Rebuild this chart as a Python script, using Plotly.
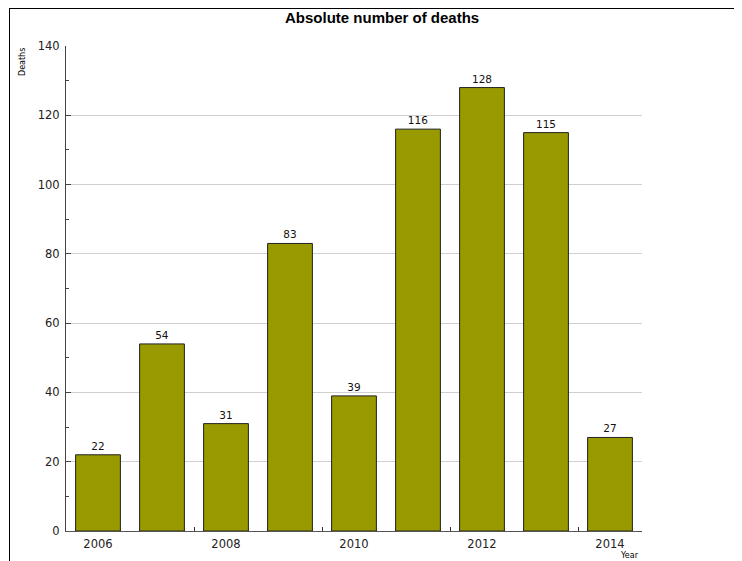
import plotly.graph_objects as go

years = [2006, 2007, 2008, 2009, 2010, 2011, 2012, 2013, 2014]
deaths = [22, 54, 31, 83, 39, 116, 128, 115, 27]
x_tick_vals = [2006, 2008, 2010, 2012, 2014]
x_tick_text = ["2006", "2008", "2010", "2012", "2014"]
x_minor_vals = [2007.5, 2009.5, 2011.5, 2013.5]
y_tick_vals = [0, 20, 40, 60, 80, 100, 120, 140]

OFF = 8  # page offset of the figure (body margin)
W, H = 742 - OFF, 561 - OFF
L, T = 66 - OFF, 46 - OFF
pw, ph = 576, 485
R, B = W - L - pw, H - T - ph

def px(x):
    return (x - OFF - L) / pw

def py(y):
    return (T + ph - (y - OFF)) / ph

fig = go.Figure()
fig.add_trace(go.Bar(
    x=years, y=deaths, width=0.7,
    marker=dict(color="#999900", line=dict(color="#222222", width=1)),
    text=[str(v) for v in deaths], textposition="outside",
    textfont=dict(family="DejaVu Sans", size=10.5, color="#111111"),
    cliponaxis=False,
))

fig.update_layout(
    width=W, height=H,
    margin=dict(l=L, r=R, t=T, b=B),
    paper_bgcolor="white", plot_bgcolor="white",
    showlegend=False,
    font=dict(family="DejaVu Sans", size=11, color="#222222"),
)
fig.update_xaxes(
    range=[2005.5, 2014.5], automargin=False,
    tickvals=x_tick_vals, ticktext=x_tick_text,
    ticks="", showgrid=False, zeroline=False,
    showline=True, linecolor="#555555", linewidth=1,
    tickfont=dict(family="DejaVu Sans", size=11.5, color="#222222"),
    ticklabelstandoff=2,
    minor=dict(tickvals=x_minor_vals, ticks="inside", ticklen=4, tickcolor="#333333", showgrid=False),
)
fig.update_yaxes(
    range=[0, 140], tickvals=y_tick_vals, automargin=False,
    ticks="inside", ticklen=5, tickcolor="#444444",
    showgrid=True, gridcolor="#d0d0d0", gridwidth=1,
    zeroline=False, showline=True, linecolor="#444444", linewidth=1,
    tickfont=dict(family="DejaVu Sans", size=11.5, color="#222222"),
    ticklabelstandoff=3,
    minor=dict(dtick=10, ticks="inside", ticklen=3, tickcolor="#444444", showgrid=False),
)

# frame lines (top and left)
fig.add_shape(type="line", xref="paper", yref="paper",
              x0=px(9), x1=px(742), y0=py(8.5), y1=py(8.5),
              line=dict(color="#000000", width=1))
fig.add_shape(type="line", xref="paper", yref="paper",
              x0=px(9.5), x1=px(9.5), y0=py(8), y1=py(561),
              line=dict(color="#000000", width=1))

fig.add_annotation(text="<b>Absolute number of deaths</b>", xref="paper", yref="paper",
                   x=px(381.5), y=py(18), showarrow=False, xanchor="center", yanchor="middle",
                   font=dict(family="Liberation Sans", size=15, color="#000000"))
fig.add_annotation(text="Deaths", xref="paper", yref="paper",
                   x=px(22), y=py(62), showarrow=False, textangle=-90,
                   xanchor="center", yanchor="middle",
                   font=dict(family="DejaVu Sans", size=8, color="#000000"))
fig.add_annotation(text="Year", xref="paper", yref="paper",
                   x=px(629), y=py(555), showarrow=False,
                   xanchor="center", yanchor="middle",
                   font=dict(family="DejaVu Sans", size=8, color="#000000"))

fig.write_html("out.html")
